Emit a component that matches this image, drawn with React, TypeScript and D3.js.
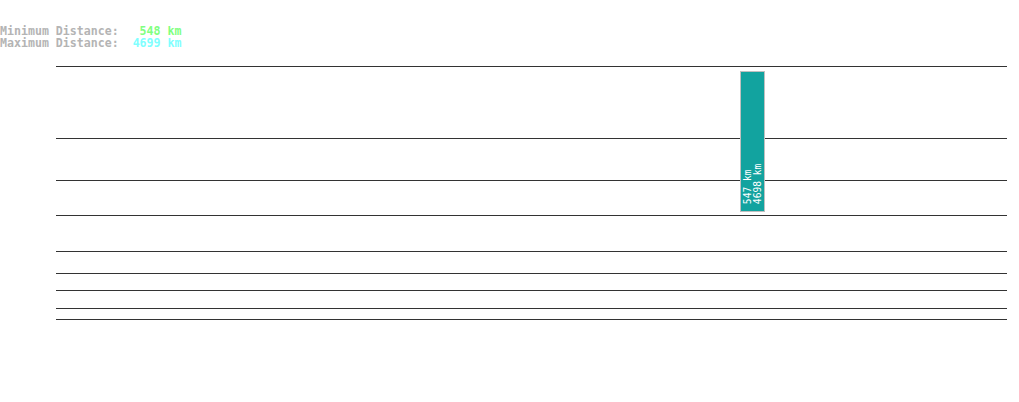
import { useEffect, useRef } from 'react';
import * as d3 from 'd3';

// distance boundaries (km) drawn as horizontal rules, log scale
const boundaries = [5050, 1670, 876, 512, 294, 210, 162, 123, 104];

// one object, its distance range
const objects = [{ slot: 0.7324, minKm: 547, maxKm: 4698 }];

// header summary
const summaryLabels = ['Minimum Distance:', 'Maximum Distance:'];
const summaryValues = [548, 4699];
const summaryColors = ['#80ff80', '#80ffff'];

const W = 1019;
const H = 402;

const App = () => {
  const ref = useRef<SVGSVGElement | null>(null);

  useEffect(() => {
    if (!ref.current) return;
    const svg = d3.select(ref.current);
    svg.selectAll('*').remove();

    const left = 56;
    const right = 1007;
    const top = 66.3;
    const bottom = 319.3;

    const y = d3.scaleLog()
      .domain([d3.min(boundaries) as number, d3.max(boundaries) as number])
      .range([bottom, top]);
    const x = d3.scaleLinear().domain([0, 1]).range([left, right]);

    const mono = '"DejaVu Sans Mono", "Liberation Mono", monospace';

    // header
    const head = svg.append('g').style('font-family', mono).style('font-size', '11.6px').style('font-weight', 'bold');
    summaryLabels.forEach((lab, i) => {
      const t = head.append('text')
        .attr('x', 0)
        .attr('y', 35 + i * 12)
        .attr('xml:space', 'preserve')
        .style('white-space', 'pre');
      t.append('tspan').attr('fill', '#b4b4b4').text(lab);
      const v = `${summaryValues[i]} km`;
      t.append('tspan').attr('fill', summaryColors[i]).text(v.padStart(9, ' '));
    });

    // rules
    svg.append('g')
      .selectAll('line')
      .data(boundaries)
      .join('line')
      .attr('x1', left)
      .attr('x2', right)
      .attr('y1', d => Math.floor(y(d)) + 0.5)
      .attr('y2', d => Math.floor(y(d)) + 0.5)
      .attr('stroke', '#333')
      .attr('stroke-width', 1);

    // bars
    const bw = 24;
    const bars = svg.append('g');
    objects.forEach(o => {
      const cx = x(o.slot);
      const y0 = y(o.minKm);
      const y1 = y(o.maxKm);
      bars.append('rect')
        .attr('x', Math.floor(cx - bw / 2) + 0.5)
        .attr('y', Math.round(y1) + 0.5)
        .attr('width', bw)
        .attr('height', Math.round(y0 - y1))
        .attr('fill', '#12a39f')
        .attr('stroke', '#c0c0c0')
        .attr('stroke-width', 1);

      const lbl = bars.append('g')
        .attr('transform', `translate(${cx},${y0 - 7}) rotate(-90)`)
        .style('font-family', mono)
        .style('font-size', '9.6px')
        .attr('fill', '#fff');
      lbl.append('text').attr('x', 0).attr('y', -1.3).text(`${o.minKm} km`);
      lbl.append('text').attr('x', 0).attr('y', 8.7).text(`${o.maxKm} km`);
    });
  }, []);

  return (
    <svg
      ref={ref}
      width={W}
      height={H}
      style={{ position: 'absolute', left: 0, top: 0, background: '#fff' }}
    />
  );
};

export default App;
